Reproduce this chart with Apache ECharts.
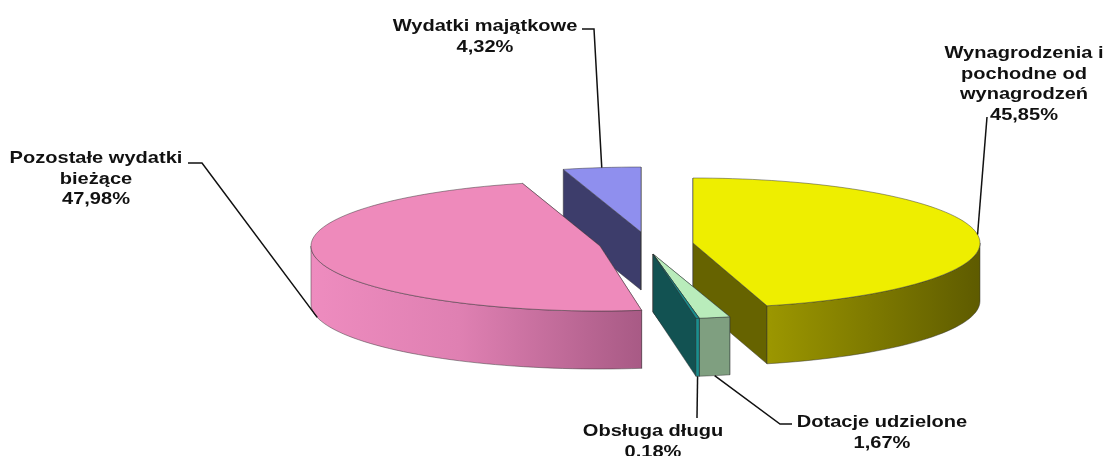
<!DOCTYPE html>
<html>
	<head>
		<meta charset="utf-8" />
		<title>Wydatki</title>
		<style>
			html, body { margin: 0; padding: 0; background: #fff; }
			#chart { width: 1109px; height: 456px; }
		</style>
	</head>
	<body>
		<div id="chart"></div>
		<script src="https://cdn.jsdelivr.net/npm/echarts@6/dist/echarts.min.js"></script>
		<script>
			// dane
			var categories = ['Wynagrodzenia i\npochodne od\nwynagrodzeń', 'Dotacje udzielone', 'Obsługa długu', 'Pozostałe wydatki\nbieżące', 'Wydatki majątkowe'];
			var values = [45.85, 1.67, 0.18, 47.98, 4.32];

			// wyglad kawalkow
			var topColors = ['#eeee00', '#b9ecbb', '#1a8f8f', '#ee8abb', '#8f8fee'];
			var faceColors = ['#666300', '#125252', '#125252', '#c0709c', '#3d3d6b'];
			var wallStops = [
				[[0, '#9c9700'], [1, '#5e5b00']],
				[[0, '#7f9f80'], [1, '#7f9f80']],
				[[0, '#1a8f8f'], [1, '#1a8f8f']],
				[[0, '#ee8cbf'], [0.45, '#df80b2'], [1, '#a85a85']],
				[[0, '#8f8fee'], [1, '#8f8fee']]
			];

			// uklad: srodek kola, wysuniecie kawalkow, promienie
			var baseX = 647, baseY = 245, ry = 65, depth = 58;
			var offsets = [[46, -2], [6, 9], [6, 9], [-47, 1], [-6, -13]];
			var radiiX = [287, 298, 298, 289, 290];
			var zOrder = [20, 30, 40, 10, 0];	// kolejnosc rysowania, tyl -> przod

			// opisy: srodek tekstu, pierwsza linia, linia odniesienia
			var labelCenter = [[1024, 52], [882, 421], [653, 430], [96, 157], [485, 25]];
			var leaderStart = [[[987, 117]], [[792, 424], [780, 424]], [[697, 418]], [[188, 163], [202, 163]], [[582, 29], [594, 29]]];
			var leaderBottom = [false, true, true, true, false];

			var total = values.reduce(function (a, b) { return a + b; }, 0);

			function arcPoints(cx, cy, rx, a0, a1, dy) {
				var pts = [];
				var n = Math.max(1, Math.ceil((a1 - a0) / 2));
				for (var i = 0; i <= n; i++) {
					var a = (a0 + (a1 - a0) * i / n) * Math.PI / 180;
					pts.push([cx + rx * Math.sin(a), cy - ry * Math.cos(a) + dy]);
				}
				return pts;
			}

			function renderSlice(params, api) {
				var idx = api.value(0);
				var start = 0;
				for (var i = 0; i < idx; i++) start += values[i];
				var a0 = start / total * 360;
				var a1 = (start + api.value(1)) / total * 360;
				var mid = (a0 + a1) / 2;
				var cx = baseX + offsets[idx][0], cy = baseY + offsets[idx][1], rx = radiiX[idx];
				var z = zOrder[idx];
				var kids = [];

				function poly(points, fill, zz) {
					kids.push({
						type: 'polygon',
						shape: { points: points },
						style: { fill: fill, stroke: 'rgba(50,50,50,0.6)', lineWidth: 0.8, lineJoin: 'round' },
						z2: zz,
						silent: true
					});
				}

				// sciany promieniowe
				[a0, a1].forEach(function (a) {
					var p = arcPoints(cx, cy, rx, a, a, 0)[0];
					poly([[cx, cy], p, [p[0], p[1] + depth], [cx, cy + depth]], faceColors[idx], z);
				});

				// sciana zewnetrzna, tylko przednia polowa
				var w0 = Math.max(a0, 90), w1 = Math.min(a1, 270);
				if (w1 > w0) {
					var top = arcPoints(cx, cy, rx, w0, w1, 0);
					var bottom = arcPoints(cx, cy, rx, w0, w1, depth).reverse();
					// gradient liczony od lewej strony sciany
					poly(top.concat(bottom), {
						type: 'linear', x: 0, y: 0, x2: 1, y2: 0,
						colorStops: wallStops[idx].map(function (s) { return { offset: s[0], color: s[1] }; })
					}, z + 1);
				}

				// gora
				poly([[cx, cy]].concat(arcPoints(cx, cy, rx, a0, a1, 0)), topColors[idx], z + 2);

				// linia odniesienia zaczepiona w polowie luku
				var anchor = arcPoints(cx, cy, rx, mid, mid, leaderBottom[idx] ? depth : 0)[0];
				kids.push({
					type: 'polyline',
					shape: { points: leaderStart[idx].concat([anchor]) },
					style: { stroke: '#111', lineWidth: 1.5, fill: null },
					z2: 100,
					silent: true
				});

				// opis, w oryginale czcionka jest rozciagnieta w poziomie
				var text = categories[idx] + '\n' + api.value(1).toFixed(2).replace('.', ',') + '%';
				kids.push({
					type: 'text',
					x: labelCenter[idx][0],
					y: labelCenter[idx][1] - 9,
					scaleX: 1.18,
					style: {
						text: text,
						fill: '#111',
						font: 'bold 17px "Liberation Sans", Arial, sans-serif',
						align: 'center',
						verticalAlign: 'top',
						lineHeight: 20.6
					},
					z2: 101,
					silent: true
				});

				return { type: 'group', children: kids };
			}

			var myChart = echarts.init(document.getElementById('chart'));
			myChart.setOption({
				animation: false,
				backgroundColor: '#fff',
				series: [{
					type: 'custom',
					coordinateSystem: 'none',
					renderItem: renderSlice,
					data: values.map(function (v, i) { return [i, v]; })
				}]
			});
		</script>
	</body>
</html>
